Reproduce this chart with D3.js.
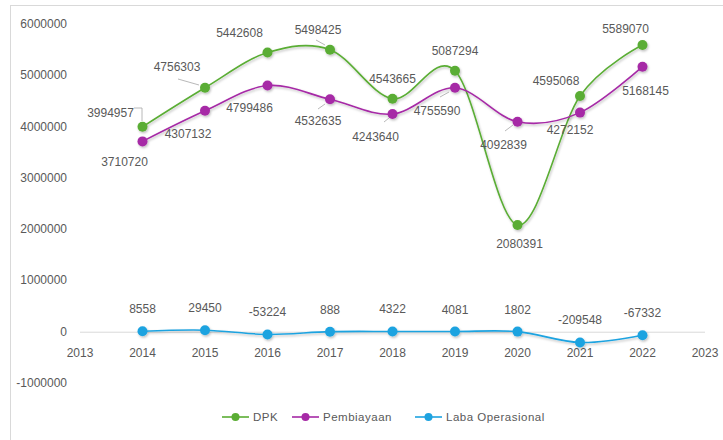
<!DOCTYPE html>
<html>
<head>
<meta charset="utf-8">
<script src="https://cdn.jsdelivr.net/npm/d3@7"></script>
<style>
  body { margin: 0; background: #fff; }
  svg text { font-family: "Liberation Sans", Arial, sans-serif; fill: #595959; }
</style>
</head>
<body>
<div id="chart"></div>
<script>
// data
var years = [2014, 2015, 2016, 2017, 2018, 2019, 2020, 2021, 2022];
var dpk = [3994957, 4756303, 5442608, 5498425, 4543665, 5087294, 2080391, 4595068, 5589070];
var pembiayaan = [3710720, 4307132, 4799486, 4532635, 4243640, 4755590, 4092839, 4272152, 5168145];
var laba = [8558, 29450, -53224, 888, 4322, 4081, 1802, -209548, -67332];
var seriesNames = ["DPK", "Pembiayaan", "Laba Operasional"];
var yTicks = [-1000000, 0, 1000000, 2000000, 3000000, 4000000, 5000000, 6000000];
var xTicks = [2013, 2014, 2015, 2016, 2017, 2018, 2019, 2020, 2021, 2022, 2023];

var colors = ["#5aad34", "#a62aa6", "#1fa3e0"];

// label offsets (dx, dy from point), text anchor
var dpkLabels = [[-32, -14, "middle"], [-28, -21, "middle"], [-28, -20, "middle"], [-12, -20, "middle"],
                 [0, -20, "middle"], [0, -20, "middle"], [2, 19, "middle"], [-24, -15, "middle"], [-17, -16, "middle"]];
var pbLabels = [[-18, 21, "middle"], [-17, 23, "middle"], [-18, 22, "middle"], [-12, 22, "middle"],
                [-17, 23, "middle"], [-18, 23, "middle"], [-14, 23, "middle"], [-10, 17, "middle"], [3, 24, "middle"]];

var W = 723, H = 440;
var svg = d3.select("#chart").append("svg")
    .attr("width", W)
    .attr("height", H);

// outer frame
svg.append("rect")
    .attr("x", 10.5).attr("y", 5.5)
    .attr("width", 730).attr("height", 450)
    .attr("fill", "none")
    .attr("stroke", "#d9d9d9");

var x = d3.scaleLinear().domain([2013, 2023]).range([80, 705]);
var y = d3.scaleLinear().domain([-1000000, 6000000]).range([383, 24]);

// zero line
svg.append("line")
    .attr("x1", x(2013)).attr("x2", x(2023))
    .attr("y1", y(0) + 0.5).attr("y2", y(0) + 0.5)
    .attr("stroke", "#d9d9d9");

// y axis labels
svg.append("g").selectAll("text")
    .data(yTicks)
    .enter()
    .append("text")
    .attr("x", 67)
    .attr("y", function(d) { return y(d) + 4; })
    .attr("text-anchor", "end")
    .attr("font-size", 12)
    .text(function(d) { return d; });

// x axis labels
svg.append("g").selectAll("text")
    .data(xTicks)
    .enter()
    .append("text")
    .attr("x", function(d) { return x(d); })
    .attr("y", y(0) + 25)
    .attr("text-anchor", "middle")
    .attr("font-size", 12)
    .text(function(d) { return d; });

var line = d3.line()
    .x(function(d) { return x(d[0]); })
    .y(function(d) { return y(d[1]); })
    .curve(d3.curveCardinal.tension(0));

var defs = svg.append("defs");
defs.append("filter").attr("id", "sh")
    .attr("x", "-50%").attr("y", "-50%").attr("width", "200%").attr("height", "200%")
    .append("feDropShadow")
    .attr("dx", 1).attr("dy", 1.5).attr("stdDeviation", 1)
    .attr("flood-color", "#000").attr("flood-opacity", 0.25);

var allSeries = [dpk, pembiayaan, laba];

allSeries.forEach(function(vals, i) {
  var pts = years.map(function(yr, j) { return [yr, vals[j]]; });
  var g = svg.append("g").attr("filter", "url(#sh)");
  g.append("path")
      .attr("d", line(pts))
      .attr("fill", "none")
      .attr("stroke", colors[i])
      .attr("stroke-width", 1.6);
  g.selectAll("circle")
      .data(pts)
      .enter()
      .append("circle")
      .attr("cx", function(d) { return x(d[0]); })
      .attr("cy", function(d) { return y(d[1]); })
      .attr("r", 5)
      .attr("fill", colors[i]);
});

// leader lines (from label towards point)
var leaders = [
  [[134, 108], [142, 108], [142, 121]],
  [[178, 79], [199, 85]],
  [[316, 40], [325, 45]],
  [[318, 109], [325, 104]],
  [[384, 122], [389, 118]],
  [[440, 97], [449, 92]],
  [[505, 131], [513, 125]]
];
svg.append("g").selectAll("path")
    .data(leaders)
    .enter()
    .append("path")
    .attr("d", d3.line())
    .attr("fill", "none")
    .attr("stroke", "#a6a6a6")
    .attr("stroke-width", 0.8);

function addLabels(vals, offs) {
  svg.append("g").selectAll("text")
      .data(vals)
      .enter()
      .append("text")
      .attr("x", function(d, j) { return x(years[j]) + offs[j][0]; })
      .attr("y", function(d, j) { return y(d) + offs[j][1] + 4; })
      .attr("text-anchor", function(d, j) { return offs[j][2]; })
      .attr("font-size", 12)
      .attr("fill", "#404040")
      .text(function(d) { return d; });
}
addLabels(dpk, dpkLabels);
addLabels(pembiayaan, pbLabels);

// laba labels sit above the points
svg.append("g").selectAll("text")
    .data(laba)
    .enter()
    .append("text")
    .attr("x", function(d, j) { return x(years[j]); })
    .attr("y", function(d, j) { return y(d) - 18; })
    .attr("text-anchor", "middle")
    .attr("font-size", 12)
    .attr("fill", "#404040")
    .text(function(d) { return d; });

// legend
var legX = [222, 292, 415];
var leg = svg.append("g");
seriesNames.forEach(function(name, i) {
  var lg = leg.append("g").attr("transform", "translate(" + legX[i] + ",417)");
  lg.append("line").attr("x1", 0).attr("x2", 27).attr("stroke", colors[i]).attr("stroke-width", 1.6);
  lg.append("circle").attr("cx", 13.5).attr("r", 4).attr("fill", colors[i]);
  lg.append("text")
      .attr("x", 31)
      .attr("y", 4)
      .attr("font-size", 11.5)
      .attr("letter-spacing", 0.5)
      .text(name);
});
</script>
</body>
</html>
